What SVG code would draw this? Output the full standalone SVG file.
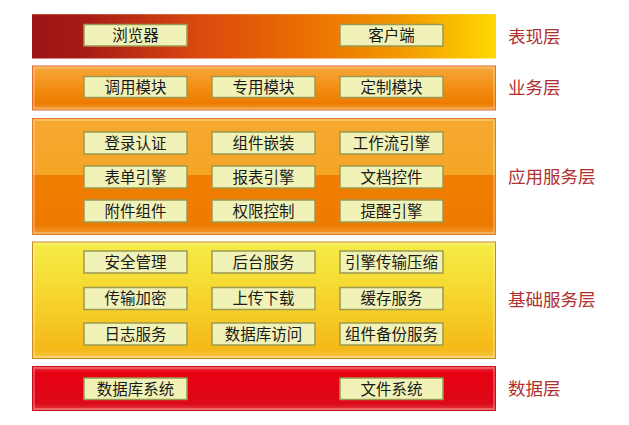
<svg xmlns="http://www.w3.org/2000/svg" width="629" height="425" viewBox="0 0 629 425">
<defs>
<linearGradient id="g1" x1="0" y1="0" x2="1" y2="0">
<stop offset="0" stop-color="#9c1414"/>
<stop offset="0.12" stop-color="#a81c16"/>
<stop offset="0.35" stop-color="#d9470f"/>
<stop offset="0.6" stop-color="#ec7000"/>
<stop offset="0.8" stop-color="#f29a00"/>
<stop offset="1" stop-color="#ffd900"/>
</linearGradient>
<linearGradient id="g2" x1="0" y1="0" x2="0" y2="1">
<stop offset="0" stop-color="#f6a83a"/>
<stop offset="0.55" stop-color="#f28c10"/>
<stop offset="0.85" stop-color="#ee7a00"/>
<stop offset="1" stop-color="#f29a30"/>
</linearGradient>
<linearGradient id="g3" x1="0" y1="0" x2="0" y2="1">
<stop offset="0" stop-color="#f6a830"/>
<stop offset="0.49" stop-color="#f5a626"/>
<stop offset="0.49" stop-color="#ef7f00"/>
<stop offset="0.92" stop-color="#ee7a00"/>
<stop offset="1" stop-color="#f29a30"/>
</linearGradient>
<linearGradient id="g4" x1="0" y1="0" x2="0" y2="1">
<stop offset="0" stop-color="#f6ec48"/>
<stop offset="0.5" stop-color="#f6d42c"/>
<stop offset="0.92" stop-color="#f5b818"/>
<stop offset="1" stop-color="#f7c84a"/>
</linearGradient>
<linearGradient id="g5" x1="0" y1="0" x2="0" y2="1">
<stop offset="0" stop-color="#e8343c"/>
<stop offset="0.15" stop-color="#e60012"/>
<stop offset="0.85" stop-color="#dc0a18"/>
<stop offset="1" stop-color="#e44048"/>
</linearGradient>
<style>
.box{fill:#f1f2b8;stroke:#9a9a52;stroke-width:1.5}
.bt{font-family:"Noto Sans CJK SC","Noto Sans",sans-serif;font-size:15.5px;fill:#1a1a1a;text-anchor:middle}
.lb{font-family:"Noto Sans CJK SC","Noto Sans",sans-serif;font-size:17.5px;fill:#b03030}
.glow{fill:none;stroke:#ffffff;stroke-opacity:0.25;stroke-width:2}
</style>
</defs>

<g id="layer-presentation">
<rect x="32" y="14" width="464" height="44.5" fill="url(#g1)"/>
<line x1="32" y1="14.5" x2="496" y2="14.5" stroke="#ffd080" stroke-opacity="0.3"/>
<text class="lb" x="508" y="42.5">表现层</text>
</g>
<g id="n-browser"><rect class="box" x="84" y="24.5" width="103" height="21.5"/><text class="bt" x="135.5" y="40.5">浏览器</text></g>
<g id="n-client"><rect class="box" x="340" y="24.5" width="103" height="21.5"/><text class="bt" x="391.5" y="40.5">客户端</text></g>

<g id="layer-business">
<rect x="32.5" y="66" width="463" height="44" fill="url(#g2)" stroke="#e46a30" stroke-width="1"/>
<rect class="glow" x="34" y="67.5" width="460" height="41"/>
<text class="lb" x="508" y="94">业务层</text>
</g>
<g id="n-call"><rect class="box" x="84" y="76.5" width="103" height="21"/><text class="bt" x="135.5" y="92.5">调用模块</text></g>
<g id="n-special"><rect class="box" x="212" y="76.5" width="103" height="21"/><text class="bt" x="263.5" y="92.5">专用模块</text></g>
<g id="n-custom"><rect class="box" x="340" y="76.5" width="103" height="21"/><text class="bt" x="391.5" y="92.5">定制模块</text></g>

<g id="layer-application">
<rect x="32.5" y="118.5" width="463" height="116" fill="url(#g3)" stroke="#e6782a" stroke-width="1"/>
<rect class="glow" x="34" y="120" width="460" height="113"/>
<text class="lb" x="508" y="183">应用服务层</text>
</g>
<g id="n-login"><rect class="box" x="84" y="132" width="103" height="22"/><text class="bt" x="135.5" y="148.5">登录认证</text></g>
<g id="n-embed"><rect class="box" x="212" y="132" width="103" height="22"/><text class="bt" x="263.5" y="148.5">组件嵌装</text></g>
<g id="n-workflow"><rect class="box" x="340" y="132" width="103" height="22"/><text class="bt" x="391.5" y="148.5">工作流引擎</text></g>
<g id="n-form"><rect class="box" x="84" y="166" width="103" height="22"/><text class="bt" x="135.5" y="182.5">表单引擎</text></g>
<g id="n-report"><rect class="box" x="212" y="166" width="103" height="22"/><text class="bt" x="263.5" y="182.5">报表引擎</text></g>
<g id="n-doc"><rect class="box" x="340" y="166" width="103" height="22"/><text class="bt" x="391.5" y="182.5">文档控件</text></g>
<g id="n-attach"><rect class="box" x="84" y="200" width="103" height="22"/><text class="bt" x="135.5" y="216.5">附件组件</text></g>
<g id="n-perm"><rect class="box" x="212" y="200" width="103" height="22"/><text class="bt" x="263.5" y="216.5">权限控制</text></g>
<g id="n-remind"><rect class="box" x="340" y="200" width="103" height="22"/><text class="bt" x="391.5" y="216.5">提醒引擎</text></g>

<g id="layer-foundation">
<rect x="32.5" y="242" width="463" height="116.5" fill="url(#g4)" stroke="#c88a22" stroke-width="1"/>
<rect class="glow" x="34" y="243.5" width="460" height="113.5"/>
<text class="lb" x="508" y="306">基础服务层</text>
</g>
<g id="n-security"><rect class="box" x="84" y="251" width="103" height="22"/><text class="bt" x="135.5" y="267.5">安全管理</text></g>
<g id="n-backend"><rect class="box" x="212" y="251" width="103" height="22"/><text class="bt" x="263.5" y="267.5">后台服务</text></g>
<g id="n-compress"><rect class="box" x="340" y="251" width="103" height="22"/><text class="bt" x="391.5" y="267.5">引擎传输压缩</text></g>
<g id="n-encrypt"><rect class="box" x="84" y="287.5" width="103" height="22"/><text class="bt" x="135.5" y="304">传输加密</text></g>
<g id="n-updown"><rect class="box" x="212" y="287.5" width="103" height="22"/><text class="bt" x="263.5" y="304">上传下载</text></g>
<g id="n-cache"><rect class="box" x="340" y="287.5" width="103" height="22"/><text class="bt" x="391.5" y="304">缓存服务</text></g>
<g id="n-log"><rect class="box" x="84" y="323" width="103" height="22"/><text class="bt" x="135.5" y="339.5">日志服务</text></g>
<g id="n-dbaccess"><rect class="box" x="212" y="323" width="103" height="22"/><text class="bt" x="263.5" y="339.5">数据库访问</text></g>
<g id="n-backup"><rect class="box" x="340" y="323" width="103" height="22"/><text class="bt" x="391.5" y="339.5">组件备份服务</text></g>

<g id="layer-data">
<rect x="32.5" y="366.5" width="463" height="44" fill="url(#g5)" stroke="#c8101c" stroke-width="1"/>
<rect class="glow" x="34" y="368" width="460" height="41"/>
<text class="lb" x="508" y="395">数据层</text>
</g>
<g id="n-dbsys"><rect class="box" x="84" y="378" width="103" height="21.5"/><text class="bt" x="135.5" y="394.5">数据库系统</text></g>
<g id="n-fs"><rect class="box" x="340" y="378" width="103" height="21.5"/><text class="bt" x="391.5" y="394.5">文件系统</text></g>

<g id="connectors"/>
</svg>
